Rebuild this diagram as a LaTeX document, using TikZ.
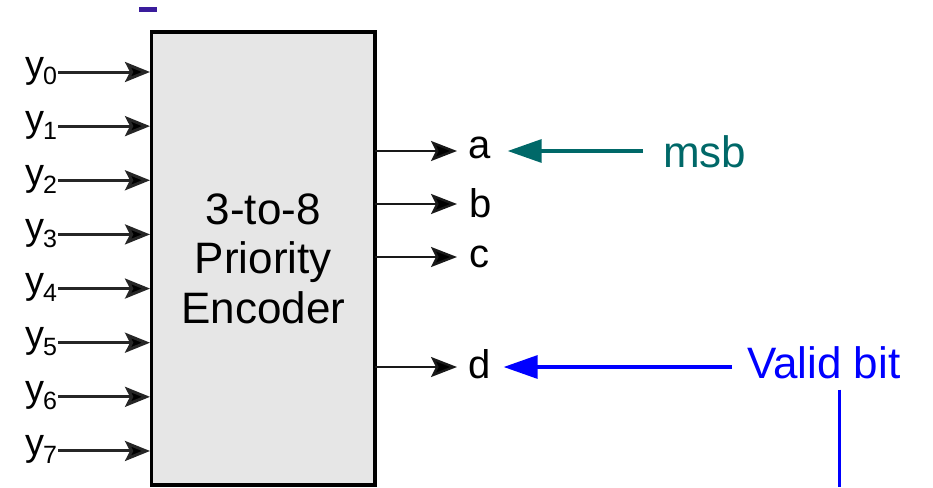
\documentclass[tikz,border=0pt]{standalone}
\usepackage{fontspec}
\setmainfont{Liberation Sans}
\usetikzlibrary{arrows.meta}
\definecolor{boxfill}{HTML}{E6E6E6}
\definecolor{msbteal}{HTML}{006868}
\definecolor{validblue}{HTML}{0000FF}
\definecolor{markpurple}{HTML}{3A1C9C}
% input label: y with a large subscript index
\newcommand\inlab[1]{{\fontsize{38}{38}\selectfont y}\kern-1pt\raisebox{-8pt}{\fontsize{25}{25}\selectfont #1}}
\begin{document}
\begin{tikzpicture}[x=1pt,y=-1pt,
  encbox/.style={draw=black,line width=3.5pt,fill=boxfill,minimum width=223.5pt,
    minimum height=453pt,inner sep=0pt,align=center,
    font=\fontsize{44}{49.5}\selectfont},
  inlabel/.style={anchor=base west,inner sep=0pt},
  outlabel/.style={anchor=base west,inner sep=0pt,font=\fontsize{40}{40}\selectfont},
  sidelabel/.style={anchor=base west,inner sep=0pt,font=\fontsize{44}{44}\selectfont},
  inarrow/.style={draw=black!85,line width=3pt,-{Stealth[length=25pt,width=20pt,inset=5pt,fill=black]}},
  outarrow/.style={draw=black!90,line width=2.4pt,-{Stealth[length=26pt,width=20pt,inset=5pt,fill=black]}},
  notearrow/.style={line width=3.2pt,-{Triangle[length=34pt,width=23pt]}},
  vline/.style={draw=validblue,line width=3pt}
]
\useasboundingbox (0,0) rectangle (933,487);

% small mark above the block
\fill[markpurple] (139,7) rectangle (157,12);

% the encoder block
\node[encbox] (enc) at (263.25,258.5) {3-to-8\\Priority\\Encoder};

% inputs y0 ... y7
\foreach \i in {0,...,7}{
  \pgfmathsetmacro\ry{72+54.14*\i}
  \coordinate (in\i) at (150,\ry);
  \node[inlabel] (y\i) at (25,\ry+5) {\inlab{\i}};
  \draw[inarrow] ([xshift=1pt]y\i.east |- in\i) -- (in\i);
}

% outputs a, b, c, d
\coordinate (oa) at (375,151);
\coordinate (ob) at (375,204);
\coordinate (oc) at (375,257);
\coordinate (od) at (375,367);
\node[outlabel] (a) at (468,158) {a};
\node[outlabel] (b) at (469,217) {b};
\node[outlabel] (c) at (469,267) {c};
\node[outlabel] (d) at (468,378) {d};
\draw[outarrow] (oa) -- ([xshift=-11pt]a.west |- oa);
\draw[outarrow] (ob) -- ([xshift=-12pt]b.west |- ob);
\draw[outarrow] (oc) -- ([xshift=-12pt]c.west |- oc);
\draw[outarrow] (od) -- ([xshift=-11pt]d.west |- od);

% annotations
\node[sidelabel,text=msbteal] (msb) at (663,167) {msb};
\draw[notearrow,draw=msbteal,fill=msbteal]
  ([xshift=-20pt]msb.west |- oa) -- ([xshift=17pt]a.east |- oa);

\node[sidelabel,text=validblue] (valid) at (747,378) {Valid bit};
\draw[notearrow,draw=validblue,fill=validblue]
  ([xshift=-15pt]valid.west |- od) -- ([xshift=13pt]d.east |- od);

\coordinate (vb) at (839,487);
\draw[vline] ([yshift=-11pt]valid.south -| vb) -- (vb);
\end{tikzpicture}
\end{document}
